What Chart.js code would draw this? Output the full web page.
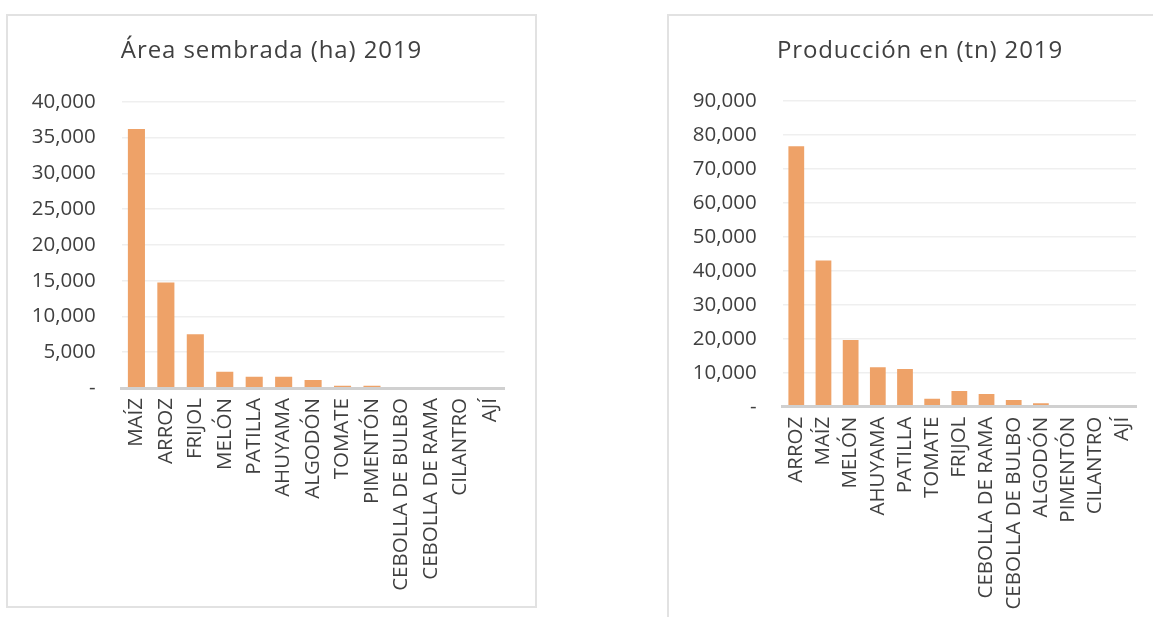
<!DOCTYPE html>
<html lang="es">
<head>
<meta charset="utf-8">
<title>Área sembrada y producción 2019</title>
<script src="https://cdn.jsdelivr.net/npm/chart.js@4/dist/chart.umd.min.js"></script>
<style>
  html, body { margin: 0; padding: 0; background: #ffffff; overflow: hidden; width: 1153px; height: 617px; }
  .panel { position: absolute; border: 2px solid #e2e2e2; background: #ffffff; }
  #panelArea { left: 6px; top: 14px; width: 527px; height: 590px; }
  #panelProd { left: 667px; top: 14px; width: 502px; height: 620px; }
  canvas { display: block; }
</style>
</head>
<body>
<div class="panel" id="panelArea"><canvas id="chartArea" width="527" height="590"></canvas></div>
<div class="panel" id="panelProd"><canvas id="chartProd" width="502" height="620"></canvas></div>
<script>
// Área sembrada (ha) por cultivo, 2019
const areaCultivos = ['MAÍZ', 'ARROZ', 'FRIJOL', 'MELÓN', 'PATILLA', 'AHUYAMA', 'ALGODÓN', 'TOMATE', 'PIMENTÓN', 'CEBOLLA DE BULBO', 'CEBOLLA DE RAMA', 'CILANTRO', 'AJÍ'];
const areaHectareas = [36200, 14750, 7500, 2280, 1580, 1560, 1120, 330, 300, 150, 100, 50, 30];
const areaTitulo = 'Área sembrada (ha) 2019';
const areaMax = 40000;
const areaPaso = 5000;

// Producción (tn) por cultivo, 2019
const prodCultivos = ['ARROZ', 'MAÍZ', 'MELÓN', 'AHUYAMA', 'PATILLA', 'TOMATE', 'FRIJOL', 'CEBOLLA DE RAMA', 'CEBOLLA DE BULBO', 'ALGODÓN', 'PIMENTÓN', 'CILANTRO', 'AJÍ'];
const prodToneladas = [76600, 43000, 19600, 11600, 11100, 2350, 4600, 3700, 2000, 1000, 400, 100, 50];
const prodTitulo = 'Producción en (tn) 2019';
const prodMax = 90000;
const prodPaso = 10000;

const BAR_COLOR = '#eea268';
const TEXT_COLOR = '#404040';
const FONT = "'Open Sans', sans-serif";

function formatoContable(v) {
  return v === 0 ? '-' : v.toLocaleString('en-US');
}

// an empty right-hand axis reserves the gap on the right of the plot,
// so the title keeps the full panel width and stays centred
function crearGrafico(canvasId, etiquetas, valores, titulo, maximo, paso, geom) {
  const chart = new Chart(document.getElementById(canvasId), {
    type: 'bar',
    data: {
      labels: etiquetas,
      datasets: [{
        data: valores,
        backgroundColor: BAR_COLOR,
        borderWidth: 0,
        barPercentage: 0.58,
        categoryPercentage: 1.0
      }]
    },
    options: {
      responsive: false,
      animation: false,
      devicePixelRatio: 1,
      layout: { padding: 0 },
      plugins: {
        legend: { display: false },
        tooltip: { enabled: false },
        title: {
          display: true,
          text: titulo,
          color: TEXT_COLOR,
          font: { family: FONT, size: 24, weight: 'normal', lineHeight: 1.2 },
          padding: { top: 21, bottom: geom.titleBottom }
        }
      },
      scales: {
        x: {
          grid: { display: false, drawTicks: false },
          border: { display: true, color: '#d0d0d0', width: 3, z: 1 },
          ticks: {
            autoSkip: false,
            minRotation: 90,
            maxRotation: 90,
            padding: 10,
            color: TEXT_COLOR,
            font: { family: FONT, size: 20.5 }
          },
          afterFit: (scale) => { scale.height = geom.xHeight; }
        },
        y: {
          min: 0,
          max: maximo,
          grid: {
            drawTicks: false,
            lineWidth: 1.5,
            color: (ctx) => (ctx.tick && ctx.tick.value === 0 ? 'rgba(0,0,0,0)' : '#efefef')
          },
          border: { display: false },
          ticks: {
            stepSize: paso,
            padding: 26,
            color: TEXT_COLOR,
            font: { family: FONT, size: 20.5 },
            callback: (v) => formatoContable(v)
          },
          afterFit: (scale) => { scale.width = geom.plotLeft; }
        },
        margenDerecho: {
          type: 'linear',
          position: 'right',
          grid: { display: false, drawTicks: false },
          border: { display: false },
          ticks: { display: false },
          afterFit: (scale) => { scale.width = geom.rightGap; }
        }
      }
    }
  });

  // slightly spaced title lettering
  const tb = chart.titleBlock;
  if (tb) {
    const drawTitle = tb.draw;
    tb.draw = function (...args) {
      const c = this.ctx;
      const prev = c.letterSpacing;
      c.letterSpacing = '0.9px';
      drawTitle.apply(this, args);
      c.letterSpacing = prev || '0px';
    };
    chart.draw();
  }
  return chart;
}

function iniciar() {
  crearGrafico('chartArea', areaCultivos, areaHectareas, areaTitulo, areaMax, areaPaso,
    { plotLeft: 113.7, rightGap: 30.5, xHeight: 590 - 372, titleBottom: 36 });
  crearGrafico('chartProd', prodCultivos, prodToneladas, prodTitulo, prodMax, prodPaso,
    { plotLeft: 113.7, rightGap: 35, xHeight: 620 - 390.7, titleBottom: 35 });
}

if (document.fonts && document.fonts.load) {
  Promise.all([
    document.fonts.load("20px 'Open Sans'"),
    document.fonts.load("24px 'Open Sans'")
  ]).then(iniciar, iniciar);
} else {
  iniciar();
}
</script>
</body>
</html>
